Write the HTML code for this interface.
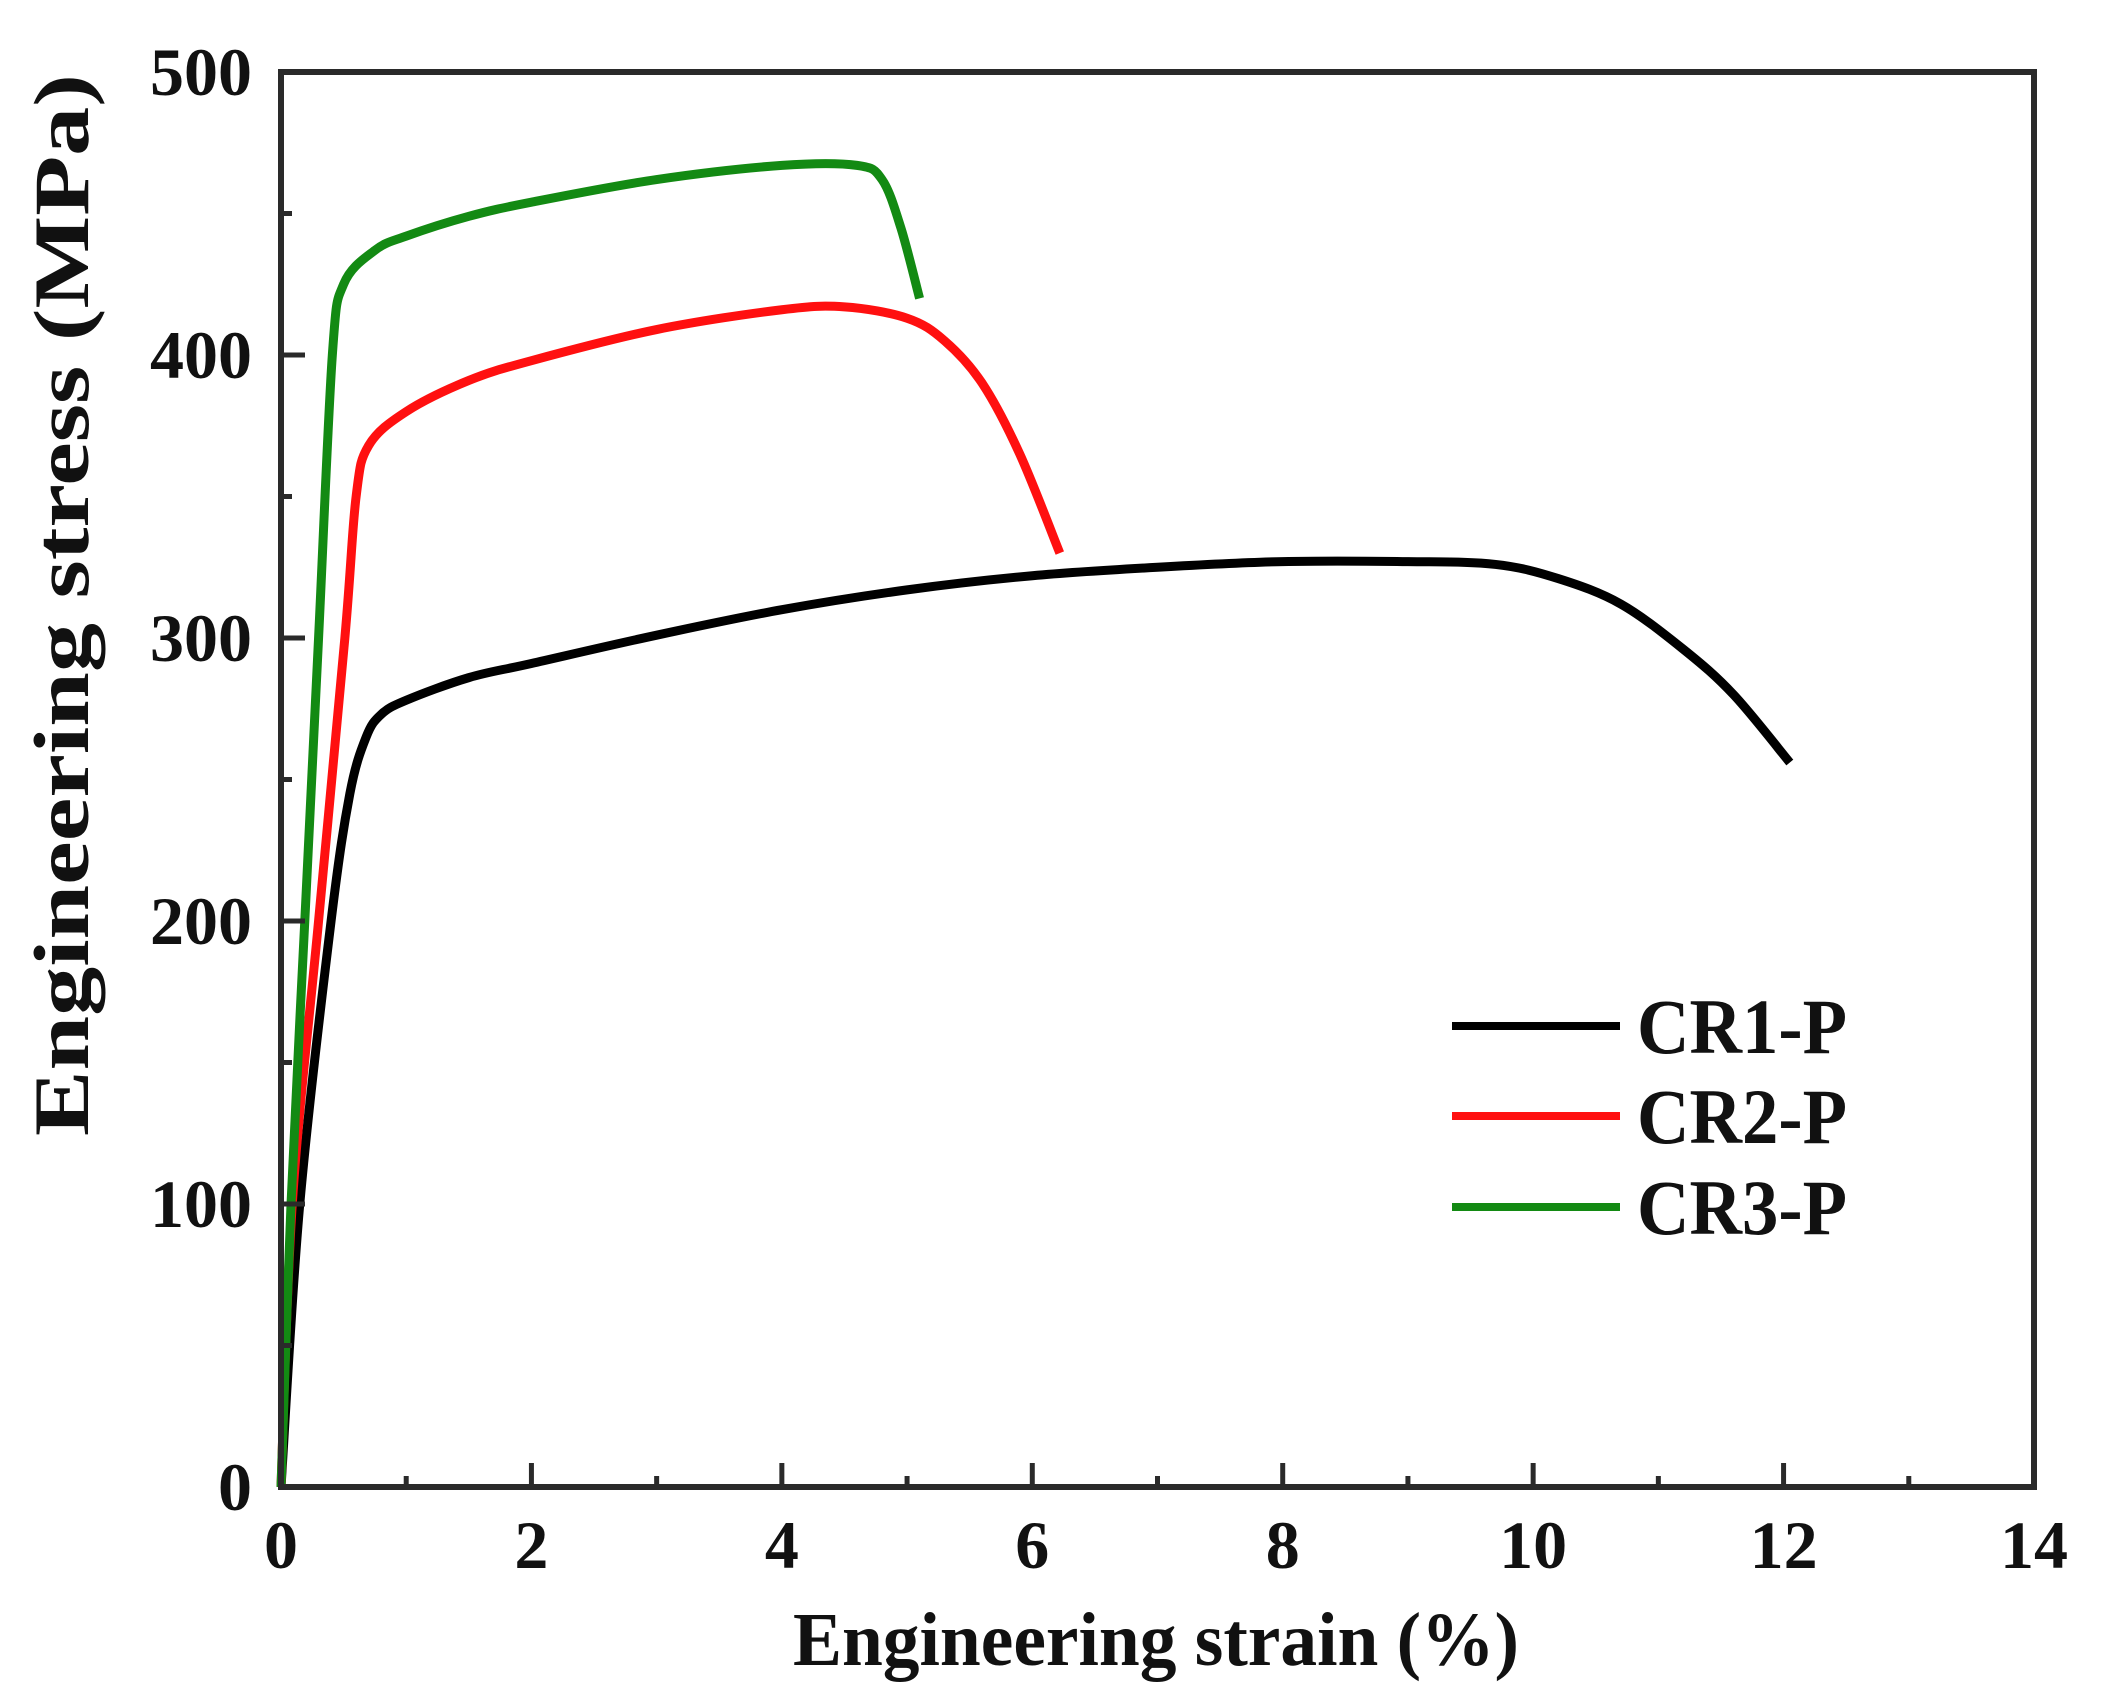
<!DOCTYPE html>
<html><head><meta charset="utf-8"><style>
html,body{margin:0;padding:0;background:#fff;}
svg{display:block;}
text{font-family:"Liberation Serif",serif;font-weight:bold;fill:#111;}
</style></head><body>
<svg id="chart" width="2108" height="1703" viewBox="0 0 2108 1703" xmlns="http://www.w3.org/2000/svg"></svg>
<script>
const xTicks = [0,2,4,6,8,10,12,14];
const yTicks = [0,100,200,300,400,500];
const seriesNames = ["CR1-P","CR2-P","CR3-P"];
const seriesColors = ["#000000","#ff1010","#138a13"];
const cr1Strain = [0,0.15,0.4,0.55,0.68,0.8,1.0,1.5,2,3,4,5,6,7,8,9,9.7,10.2,10.7,11.2,11.6,12.05];
const cr1Stress = [0,100,200,245,265,273,278,286,291,301,310,317,322,325,327,327,326,321,312,296,280,256];
const cr2Strain = [0,0.09,0.3,0.51,0.6,0.7,1.0,1.5,2,3,4,4.5,5,5.3,5.6,5.9,6.22];
const cr2Stress = [0,100,200,300,350,368,380,391,398,409,416,417,413,405,390,365,330];
const cr3Strain = [0,0.08,0.19,0.3,0.41,0.5,0.75,1,1.5,2,3,4,4.6,4.8,4.95,5.1];
const cr3Stress = [0,100,200,300,400,425,437,442,449,454,462,467,467,462,445,420];

const L=281,R=2034,T=72,B=1487;
const X=v=>L+(v-0)/(14-0)*(R-L);
const Y=v=>B-(v-0)/(500-0)*(B-T);
const svg=document.getElementById('chart');
const NS='http://www.w3.org/2000/svg';
function mk(tag,attrs,parent){const e=document.createElementNS(NS,tag);for(const k in attrs)e.setAttribute(k,attrs[k]);(parent||svg).appendChild(e);return e;}

const allX=[cr1Strain,cr2Strain,cr3Strain], allY=[cr1Stress,cr2Stress,cr3Stress];
for(let s=0;s<3;s++){
  const pts=allX[s].map((v,i)=>[X(v),Y(allY[s][i])]);
  let d='M'+pts[0][0]+','+pts[0][1];
  for(let i=0;i<pts.length-1;i++){
    const p0=pts[Math.max(0,i-1)],p1=pts[i],p2=pts[i+1],p3=pts[Math.min(pts.length-1,i+2)];
    const c1=[p1[0]+(p2[0]-p0[0])/6,p1[1]+(p2[1]-p0[1])/6];
    const c2=[p2[0]-(p3[0]-p1[0])/6,p2[1]-(p3[1]-p1[1])/6];
    d+=' C'+c1[0]+','+c1[1]+' '+c2[0]+','+c2[1]+' '+p2[0]+','+p2[1];
  }
  const p=mk('path',{d:d,fill:'none',stroke:seriesColors[s],'stroke-width':9,'stroke-linejoin':'round','stroke-linecap':'butt'});
  
  
}

const fr=mk('rect',{x:L,y:T,width:R-L,height:B-T,fill:'none',stroke:'#2a2a2a','stroke-width':6});



for(let v=0;v<=14;v++){
  const major=v%2===0;
  if(v===0||v===14)continue;
  const t=mk('line',{x1:X(v),x2:X(v),y1:B,y2:B-(major?24:11),stroke:'#2a2a2a','stroke-width':5});
  
  
}
xTicks.forEach(v=>{
  const t=mk('text',{x:X(v),y:1568,'font-size':68,'text-anchor':'middle'});
  t.textContent=v;
  
  
});
for(let v=50;v<500;v+=50){
  const major=v%100===0;
  const t=mk('line',{x1:L,x2:L+(major?24:11),y1:Y(v),y2:Y(v),stroke:'#2a2a2a','stroke-width':5});
  
  
}
yTicks.forEach(v=>{
  const t=mk('text',{x:252,y:Y(v)+23,'font-size':68,'text-anchor':'end'});
  t.textContent=v;
  
  
});
const xt=mk('text',{x:1156,y:1665,'font-size':76,'text-anchor':'middle',textLength:726,lengthAdjust:'spacingAndGlyphs'});
xt.textContent='Engineering strain (%)';


const yt=mk('text',{x:0,y:0,'font-size':78,'text-anchor':'middle',textLength:1062,lengthAdjust:'spacingAndGlyphs',transform:'translate(88,605) rotate(-90)'});
yt.textContent='Engineering stress (MPa)';



const legY=[1026,1116,1207];
for(let s=0;s<3;s++){
  const g=mk('g',{});
  
  
  mk('line',{x1:1452,x2:1620,y1:legY[s],y2:legY[s],stroke:seriesColors[s],'stroke-width':8},g);
  const t=mk('text',{x:1637,y:legY[s]+27,'font-size':78,textLength:210,lengthAdjust:'spacingAndGlyphs'},g);
  t.textContent=seriesNames[s];
}
</script>
</body></html>
